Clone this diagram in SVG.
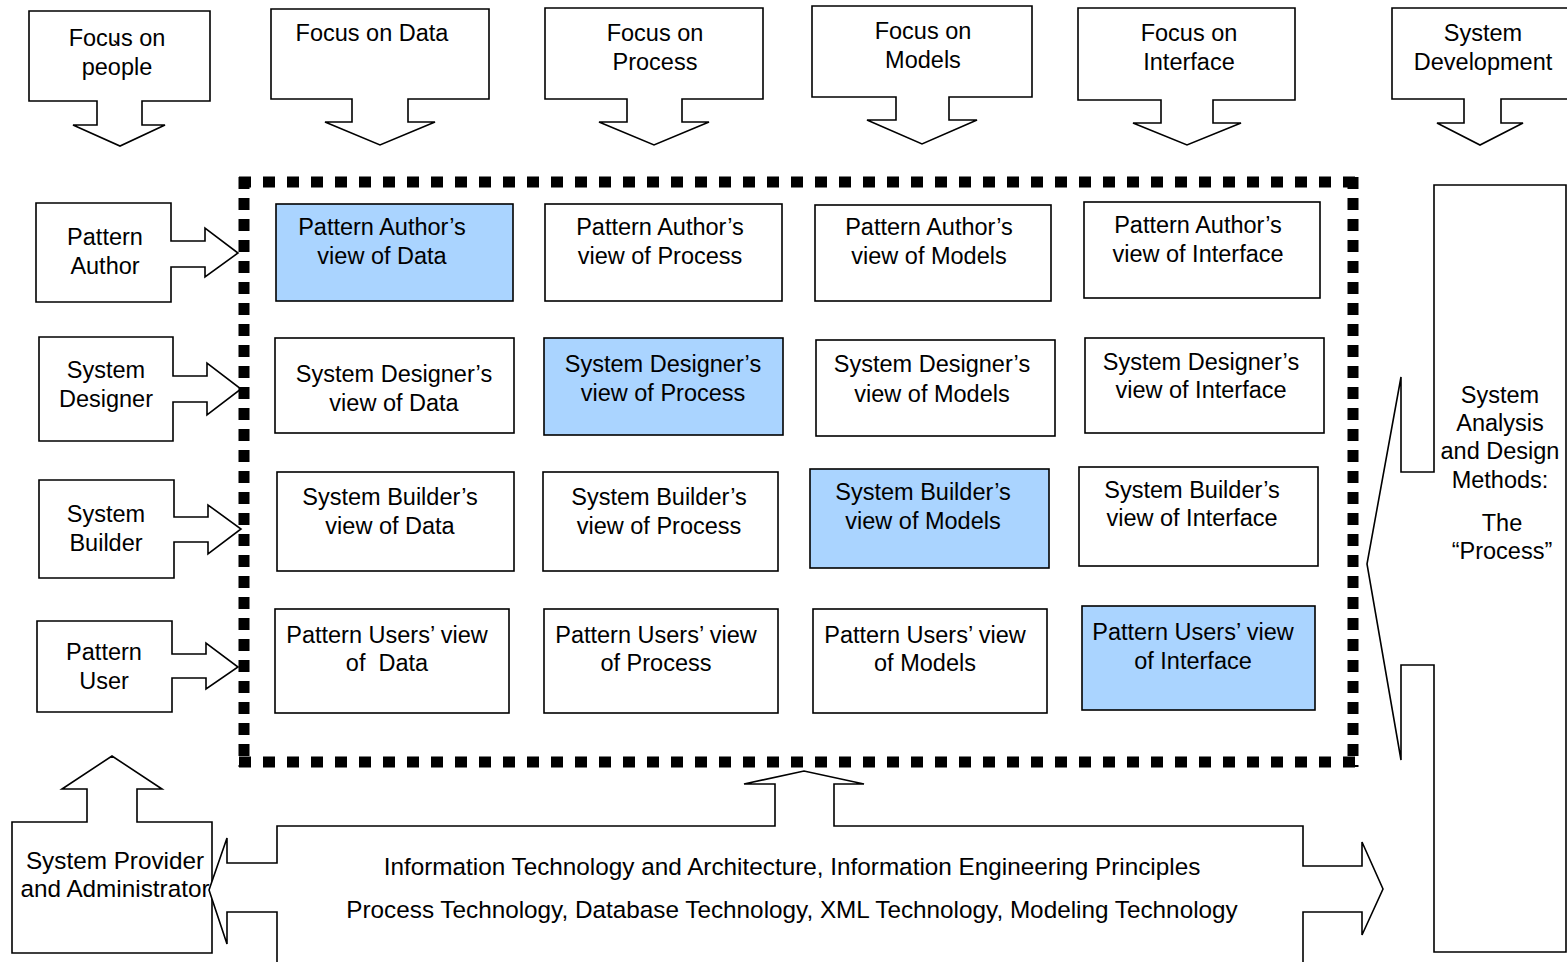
<svg xmlns="http://www.w3.org/2000/svg" width="1567" height="962" viewBox="0 0 1567 962">
<style>
.sh{fill:#fff;stroke:#000;stroke-width:1.6;stroke-linejoin:miter}
.bx{fill:#fff;stroke:#000;stroke-width:1.6}
.bl{fill:#aad4ff;stroke:#000;stroke-width:1.6}
text{font-family:"Liberation Sans",Arial,sans-serif;font-size:23.5px;fill:#000;text-anchor:middle}
.big{font-size:24.3px}
.dh{stroke:#000;stroke-width:11;fill:none;stroke-dasharray:12 12}
.dv{stroke:#000;stroke-width:11;fill:none;stroke-dasharray:12 9}
</style>
<rect width="1567" height="962" fill="#fff"/>

<g id="focus-people"><path class="sh" d="M29,11 H210 V101 H142 V125 H165 L120,146 L73,125 H97 V101 H29 Z"/><text x="117" y="46">Focus on</text><text x="116" y="58" font-size="14">`</text><text x="117" y="75">people</text></g>
<g id="focus-data"><path class="sh" d="M271,9 H489 V99 H408 V122 H435 L380,145 L325,122 H352 V99 H271 Z"/><text x="372" y="41">Focus on Data</text></g>
<g id="focus-process"><path class="sh" d="M545,8 H763 V99 H682 V122 H709 L654,145 L599,122 H627 V99 H545 Z"/><text x="655" y="41">Focus on</text><text x="655" y="70">Process</text></g>
<g id="focus-models"><path class="sh" d="M812,6 H1032 V97 H949 V120 H977 L922,144 L867,120 H896 V97 H812 Z"/><text x="923" y="39">Focus on</text><text x="923" y="68">Models</text></g>
<g id="focus-interface"><path class="sh" d="M1078,8 H1295 V100 H1213 V123 H1241 L1187,145 L1133,123 H1161 V100 H1078 Z"/><text x="1189" y="41">Focus on</text><text x="1189" y="70">Interface</text></g>
<g id="system-development"><path class="sh" d="M1392,8 H1570 V99 H1501 V123 H1523 L1480,145 L1437,123 H1464 V99 H1392 Z"/><text x="1483" y="41">System</text><text x="1483" y="70">Development</text></g>

<g id="pattern-author"><path class="sh" d="M36,203 H171 V241 H205 V228 L238,253 L205,277 V267 H171 V302 H36 Z"/><text x="105" y="245">Pattern</text><text x="105" y="274">Author</text></g>
<g id="system-designer"><path class="sh" d="M39,337 H173 V376 H207 V363 L241,389 L207,415 V402 H173 V441 H39 Z"/><text x="106" y="378">System</text><text x="106" y="407">Designer</text></g>
<g id="system-builder"><path class="sh" d="M39,480 H174 V517 H208 V505 L241,529 L208,554 V542 H174 V578 H39 Z"/><text x="106" y="522">System</text><text x="106" y="551">Builder</text></g>
<g id="pattern-user"><path class="sh" d="M37,621 H172 V654 H206 V643 L238,667 L206,689 V678 H172 V712 H37 Z"/><text x="104" y="660">Pattern</text><text x="104" y="689">User</text></g>

<g id="views-frame">
<path class="dh" d="M239,182 H1359"/>
<path class="dh" d="M239,762 H1359"/>
<path class="dv" d="M244,177 V767"/>
<path class="dv" d="M1353,177 V767"/>
</g>

<g id="pa-data"><rect class="bl" x="276" y="204" width="237" height="97"/><text x="382" y="235">Pattern Author’s</text><text x="382" y="264">view of Data</text></g>
<g id="pa-process"><rect class="bx" x="545" y="204" width="237" height="97"/><text x="660" y="235">Pattern Author’s</text><text x="660" y="264">view of Process</text></g>
<g id="pa-models"><rect class="bx" x="815" y="205" width="236" height="96"/><text x="929" y="235">Pattern Author’s</text><text x="929" y="264">view of Models</text></g>
<g id="pa-interface"><rect class="bx" x="1084" y="202" width="236" height="96"/><text x="1198" y="233">Pattern Author’s</text><text x="1198" y="262">view of Interface</text></g>

<g id="sd-data"><rect class="bx" x="275" y="338" width="239" height="95"/><text x="394" y="382">System Designer’s</text><text x="394" y="411">view of Data</text></g>
<g id="sd-process"><rect class="bl" x="544" y="338" width="239" height="97"/><text x="663" y="372">System Designer’s</text><text x="663" y="401">view of Process</text></g>
<g id="sd-models"><rect class="bx" x="816" y="340" width="239" height="96"/><text x="932" y="372">System Designer’s</text><text x="932" y="402">view of Models</text></g>
<g id="sd-interface"><rect class="bx" x="1085" y="338" width="239" height="95"/><text x="1201" y="370">System Designer’s</text><text x="1201" y="398">view of Interface</text></g>

<g id="sb-data"><rect class="bx" x="277" y="472" width="237" height="99"/><text x="390" y="505">System Builder’s</text><text x="390" y="534">view of Data</text></g>
<g id="sb-process"><rect class="bx" x="543" y="472" width="235" height="99"/><text x="659" y="505">System Builder’s</text><text x="659" y="534">view of Process</text></g>
<g id="sb-models"><rect class="bl" x="810" y="469" width="239" height="99"/><text x="923" y="500">System Builder’s</text><text x="923" y="529">view of Models</text></g>
<g id="sb-interface"><rect class="bx" x="1079" y="467" width="239" height="99"/><text x="1192" y="498">System Builder’s</text><text x="1192" y="526">view of Interface</text></g>

<g id="pu-data"><rect class="bx" x="275" y="609" width="234" height="104"/><text x="387" y="643">Pattern Users’ view</text><text x="387" y="671" xml:space="preserve">of  Data</text></g>
<g id="pu-process"><rect class="bx" x="544" y="609" width="234" height="104"/><text x="656" y="643">Pattern Users’ view</text><text x="656" y="671">of Process</text></g>
<g id="pu-models"><rect class="bx" x="813" y="609" width="234" height="104"/><text x="925" y="643">Pattern Users’ view</text><text x="925" y="671">of Models</text></g>
<g id="pu-interface"><rect class="bl" x="1082" y="606" width="233" height="104"/><text x="1193" y="640">Pattern Users’ view</text><text x="1193" y="669">of Interface</text></g>

<g id="methods"><path class="sh" d="M1434,185 H1566 V952 H1434 V665 H1401 V760 L1367,564 L1401,377 V472 H1434 Z"/>
<text x="1500" y="403">System</text><text x="1500" y="431">Analysis</text><text x="1500" y="459">and Design</text><text x="1500" y="488">Methods:</text><text x="1502" y="531">The</text><text x="1502" y="559">“Process”</text></g>

<g id="provider"><path class="sh" d="M12,822 H87 V789 H62 L112,756 L162,789 H137 V822 H212 V953 H12 Z"/><text class="big" x="115" y="869">System Provider</text><text class="big" x="115" y="897">and Administrator</text></g>

<g id="technology"><path class="sh" d="M277,966 V912 H227 V944 L209,890 L227,838 V863 H277 V826 H775 V784 H744 L804,771 L864,784 H834 V826 H1303 V866 H1362 V842 L1383,889 L1362,935 V912 H1303 V966"/>
<text class="big" x="792" y="875">Information Technology and Architecture, Information Engineering Principles</text>
<text class="big" x="792" y="918">Process Technology, Database Technology, XML Technology, Modeling Technology</text></g>
</svg>
